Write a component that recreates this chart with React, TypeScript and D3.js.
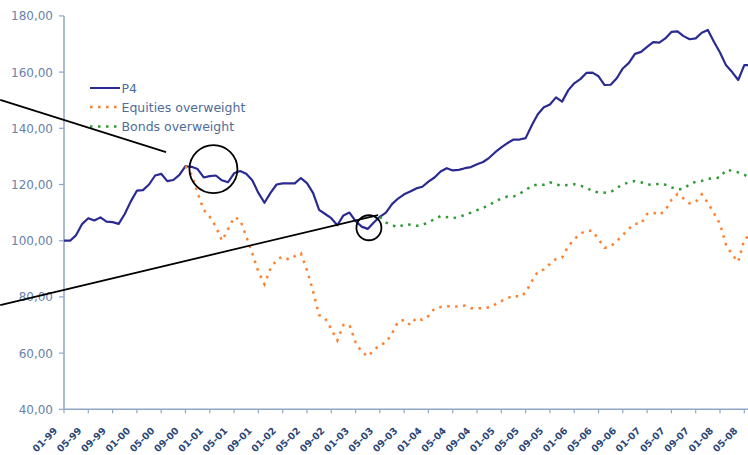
import React from 'react';
import * as d3 from 'd3';

// monthly index values, Jan 1999 = month 0
const p4 = [
  100, 100, 102, 106, 108, 107.2, 108.3, 106.8, 106.6, 106, 109.5, 114, 117.8, 118, 120, 123.2,
  123.8, 121.2, 121.6, 123.4, 126.5, 126.3, 125.5, 122.5, 123, 123.2, 121.5, 120.8, 124, 124.8,
  123.8, 121.5, 117, 113.5, 117, 120, 120.4, 120.4, 120.4, 122.3, 120.5, 117, 111, 109.5, 108,
  105.5, 109, 110, 107, 105, 104.2, 106.5, 108.5, 110, 113, 115, 116.5, 117.5, 118.6, 119.2, 121,
  122.5, 124.6, 125.8, 125, 125.2, 125.8, 126.2, 127.2, 128, 129.5, 131.5, 133.2, 134.7, 136, 136,
  136.5, 141, 145, 147.5, 148.5, 151, 149.5, 153.5, 156, 157.5, 159.7, 159.8, 158.5, 155.4, 155.5,
  157.8, 161.3, 163.3, 166.5, 167.2, 169, 170.7, 170.5, 172, 174.3, 174.5, 172.8, 171.7, 172, 174,
  175, 170.8, 167, 162.4, 160, 157.2, 162.5, 162.5,
];

const equitiesStart = 20;
const equities = [
  126.5, 123.5, 117, 111, 108.5, 105, 100, 104, 108.3, 107.5, 101.5, 95.5, 89, 84.5, 90, 93.2,
  94.3, 93.3, 94.5, 95.5, 89.5, 82, 73.5, 72.4, 68.5, 64.5, 70, 70, 63.8, 60.5, 58.8, 61, 63, 63.7,
  67, 71.2, 71.8, 70, 72.5, 71.8, 73.2, 75.8, 76.4, 76.7, 76.7, 76.5, 76.9, 76, 76, 76, 76.3, 77.3,
  78.5, 79.5, 80.5, 80, 81.5, 85.5, 89, 89.8, 91.7, 93.5, 94, 98, 100.5, 102.5, 103.5, 103.5, 100.5,
  97.5, 98, 99.8, 102, 104.3, 106, 106, 109.5, 110, 109.2, 110.8, 114.5, 116.6, 115, 113.3, 113.8,
  116.5, 113.5, 109.8, 106, 98.5, 95, 92.5, 100.5, 102,
];

const bondsStart = 52;
const bonds = [
  108.5, 106.5, 105.5, 104.8, 105.8, 105.7, 105.3, 105.6, 106.6, 107.6, 108.8, 108.4, 108, 108.4,
  109.2, 110, 110.9, 111.7, 112.7, 114, 115, 115.7, 115.7, 116.7, 118, 119.5, 120, 119.9, 120.8, 120,
  119.6, 119.8, 120.1, 119.6, 118.9, 117.6, 117.2, 117.1, 117.3, 118.8, 120, 120.8, 121.2, 120.8, 120,
  119.8, 120.3, 119.9, 119, 118.2, 118.5, 120.1, 121, 121.3, 122, 122.2, 122.5, 125.2, 124.9, 124.3,
  123.5, 122,
];

const xTickLabels = [
  '01-99', '05-99', '09-99', '01-00', '05-00', '09-00', '01-01', '05-01', '09-01', '01-02',
  '05-02', '09-02', '01-03', '05-03', '09-03', '01-04', '05-04', '09-04', '01-05', '05-05',
  '09-05', '01-06', '05-06', '09-06', '01-07', '05-07', '09-07', '01-08', '05-08',
];
const yTicks = [40, 60, 80, 100, 120, 140, 160, 180];

const seriesNames = ['P4', 'Equities overweight', 'Bonds overweight'];

// annotation overlay in data units: [month, value]
const annoLines: [number, number, number, number][] = [
  [-10.5, 150.1, 16.8, 131.5],
  [-10.5, 77.1, 51.7, 109.1],
];
const annoCircles: [number, number, number][] = [
  [24.6, 125.5, 24],
  [50.2, 104.6, 12.5],
];

const W = 748;
const H = 455;
const plot = { left: 64, right: 744.3, top: 15.9, bottom: 409.3 };

const comma = d3.formatLocale({ decimal: ',', thousands: '.', grouping: [3], currency: ['', ''] }).format('.2f');

export default function App() {
  const x = d3.scaleLinear().domain([0, 112]).range([plot.left, plot.right]);
  const y = d3.scaleLinear().domain([40, 180]).range([plot.bottom, plot.top]);

  const mkLine = (start: number) =>
    d3
      .line<number>()
      .x((_, i) => x(start + i))
      .y((d) => y(d));

  const p4Path = mkLine(0)(p4) ?? '';
  const eqPath = mkLine(equitiesStart)(equities) ?? '';
  const bdPath = mkLine(bondsStart)(bonds) ?? '';

  const axisColor = '#90a6c6';
  const font = '"DejaVu Sans", Verdana, sans-serif';

  const legendY = [88, 107, 126.5];
  const legendStyle = [
    { stroke: '#2a2a93', dash: undefined as string | undefined, width: 2 },
    { stroke: '#ff7f2a', dash: '2.5 5.5', width: 2.5 },
    { stroke: '#2e9a34', dash: '2.5 5.5', width: 2.5 },
  ];

  return (
    <div style={{ position: 'absolute', left: 0, top: 0, width: W, height: H, background: '#fff' }}>
      <svg width={W} height={H} style={{ display: 'block' }}>
        {/* axes */}
        <line x1={plot.left} x2={plot.left} y1={plot.top} y2={plot.bottom} stroke={axisColor} strokeWidth={1.5} />
        <line x1={plot.left} x2={W} y1={plot.bottom} y2={plot.bottom} stroke={axisColor} strokeWidth={1.5} />

        {yTicks.map((t) => (
          <g key={`yt-${t}`}>
            <line x1={plot.left - 5} x2={plot.left} y1={y(t)} y2={y(t)} stroke={axisColor} strokeWidth={1.2} />
            <text x={53} y={y(t) + 4.5} textAnchor="end" fontFamily={font} fontSize={12} fill="#6882a9">
              {comma(t)}
            </text>
          </g>
        ))}

        {xTickLabels.map((lab, i) => {
          const tx = x(i * 4);
          return (
            <g key={`xt-${lab}`}>
              <line x1={tx} x2={tx} y1={plot.bottom} y2={plot.bottom + 4} stroke={axisColor} strokeWidth={1.2} />
              <text
                transform={`translate(${tx - 6},${plot.bottom + 22}) rotate(-45)`}
                textAnchor="end"
                fontFamily={font}
                fontSize={9.5}
                fontWeight="bold"
                fill="#2a4676"
              >
                {lab}
              </text>
            </g>
          );
        })}

        {/* series */}
        <path d={p4Path} fill="none" stroke="#2a2a93" strokeWidth={2.2} strokeLinejoin="round" />
        <path d={eqPath} fill="none" stroke="#ff7f2a" strokeWidth={2.5} strokeDasharray="2.5 5.5" />
        <path d={bdPath} fill="none" stroke="#2e9a34" strokeWidth={2.5} strokeDasharray="2.5 5.5" />

        {/* legend */}
        {seriesNames.map((name, i) => (
          <g key={name}>
            <line
              x1={90}
              x2={120}
              y1={legendY[i]}
              y2={legendY[i]}
              stroke={legendStyle[i].stroke}
              strokeWidth={legendStyle[i].width}
              strokeDasharray={legendStyle[i].dash}
            />
            <text x={121.5} y={legendY[i] + 4.5} fontFamily={font} fontSize={12.5} fill="#4f6c98">
              {name}
            </text>
          </g>
        ))}

        {/* annotations */}
        {annoLines.map(([m1, v1, m2, v2], i) => (
          <line key={`al-${i}`} x1={x(m1)} y1={y(v1)} x2={x(m2)} y2={y(v2)} stroke="#000" strokeWidth={1.8} />
        ))}
        {annoCircles.map(([m, v, r], i) => (
          <circle key={`ac-${i}`} cx={x(m)} cy={y(v)} r={r} fill="none" stroke="#000" strokeWidth={1.8} />
        ))}
      </svg>
    </div>
  );
}
